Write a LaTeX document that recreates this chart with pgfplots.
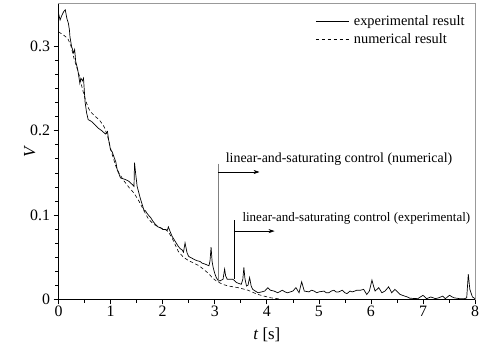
\documentclass[border=0pt]{standalone}
\usepackage{pgfplots}
\pgfplotsset{compat=1.18}
\usepackage{fontspec}
\setmainfont{Liberation Serif}
\usetikzlibrary{arrows.meta}
\newcommand{\fsa}{\fontsize{14}{16}\selectfont}
\newcommand{\fsb}{\fontsize{13.1}{16}\selectfont}
\newcommand{\fl}{\fontsize{14.5}{17}\selectfont}
\newcommand{\ft}{\fontsize{16}{18}\selectfont}
\newcommand{\fa}{\fontsize{17}{19}\selectfont}
\begin{document}
\begin{tikzpicture}
\begin{axis}[
  width=420pt, height=298pt, scale only axis,
  xmin=0, xmax=8, ymin=0, ymax=0.35,
  xtick={0,1,...,8}, minor x tick num=1,
  ytick={0,0.1,0.2,0.3}, minor y tick num=5,
  tick align=outside, tick pos=left,
  major tick length=5pt, minor tick length=3.5pt,
  tick style={black, line width=0.6pt},
  axis line style={gray!80, line width=1pt},
  /pgf/number format/assume math mode=true,
  /pgf/number format/fixed,
  tick label style={font=\ft},
  xticklabel style={yshift=2pt},
  label style={font=\fa},
  xlabel={\textit{t} [s]}, ylabel={\textit{V}},
  xlabel style={yshift=-4pt},
  ylabel style={yshift=-12pt},
  legend style={at={(rel axis cs:0.987,0.975)}, anchor=north east, draw=none, fill=none, font=\fl, row sep=3pt},
  legend cell align=left,
  legend image code/.code={\draw[#1] (0pt,0pt) -- (33pt,0pt); \path (36pt,0pt);},
  clip=false,
]
\addplot[black, line width=0.7pt] coordinates {
(0,0.339) (0.03,0.331) (0.06,0.336) (0.10,0.341) (0.13,0.343) (0.16,0.333) (0.19,0.327) (0.21,0.319) (0.22,0.311) (0.25,0.300) (0.29,0.292) (0.31,0.296) (0.33,0.282) (0.37,0.272) (0.39,0.264) (0.41,0.256) (0.43,0.262) (0.46,0.259) (0.48,0.262) (0.51,0.234) (0.54,0.221) (0.57,0.213) (0.63,0.211) (0.70,0.207) (0.76,0.203) (0.83,0.200) (0.90,0.196) (0.94,0.199) (0.96,0.190) (1.00,0.177) (1.03,0.175) (1.07,0.168) (1.10,0.163) (1.13,0.153) (1.16,0.149) (1.19,0.144) (1.24,0.143) (1.29,0.142) (1.35,0.140) (1.42,0.136) (1.45,0.134) (1.46,0.162) (1.48,0.150) (1.51,0.134) (1.54,0.127) (1.57,0.120) (1.61,0.112) (1.64,0.106) (1.67,0.105) (1.70,0.102) (1.74,0.099) (1.77,0.097) (1.81,0.093) (1.86,0.089) (1.91,0.086) (1.96,0.085) (2.00,0.083) (2.05,0.083) (2.09,0.082) (2.11,0.086) (2.14,0.081) (2.18,0.075) (2.24,0.069) (2.30,0.063) (2.34,0.060) (2.37,0.059) (2.40,0.056) (2.43,0.067) (2.47,0.055) (2.50,0.051) (2.56,0.049) (2.62,0.047) (2.66,0.046) (2.72,0.045) (2.76,0.043) (2.81,0.042) (2.85,0.041) (2.89,0.040) (2.91,0.046) (2.93,0.062) (2.95,0.045) (2.97,0.038) (3.00,0.031) (3.03,0.026) (3.06,0.023) (3.10,0.022) (3.16,0.024) (3.19,0.036) (3.21,0.028) (3.24,0.024) (3.30,0.024) (3.35,0.024) (3.42,0.020) (3.51,0.018) (3.54,0.024) (3.56,0.038) (3.58,0.025) (3.61,0.016) (3.64,0.017) (3.67,0.026) (3.70,0.016) (3.73,0.012) (3.78,0.010) (3.83,0.008) (3.90,0.009) (3.96,0.010) (4.02,0.014) (4.07,0.011) (4.14,0.010) (4.21,0.008) (4.30,0.011) (4.35,0.009) (4.40,0.008) (4.50,0.010) (4.56,0.014) (4.62,0.008) (4.67,0.021) (4.72,0.010) (4.81,0.009) (4.86,0.011) (4.91,0.010) (4.96,0.008) (5.00,0.009) (5.10,0.010) (5.14,0.008) (5.19,0.008) (5.24,0.010) (5.29,0.011) (5.33,0.009) (5.38,0.009) (5.45,0.011) (5.50,0.008) (5.54,0.007) (5.60,0.010) (5.64,0.009) (5.69,0.010) (5.73,0.011) (5.80,0.011) (5.86,0.012) (5.92,0.006) (5.97,0.010) (6.02,0.023) (6.05,0.016) (6.08,0.010) (6.15,0.014) (6.21,0.008) (6.27,0.010) (6.34,0.015) (6.40,0.008) (6.46,0.012) (6.51,0.009) (6.56,0.006) (6.65,0.004) (6.70,0.003) (6.75,0.0015) (6.90,0.001) (7.00,0.005) (7.07,0.001) (7.15,0.003) (7.24,0.001) (7.30,0.002) (7.38,0.004) (7.43,0.001) (7.51,0.005) (7.56,0.003) (7.60,0.002) (7.70,0.001) (7.80,0.001) (7.84,0.002) (7.87,0.030) (7.90,0.012) (7.95,0.003) (8.00,0.001)
};
\addlegendentry{experimental result}
\addplot[black, line width=0.6pt, dash pattern=on 3.5pt off 2.5pt] coordinates {
(0,0.317) (0.10,0.313) (0.18,0.309) (0.24,0.300) (0.30,0.285) (0.35,0.275) (0.40,0.265) (0.46,0.249) (0.53,0.234) (0.58,0.226) (0.62,0.222) (0.70,0.217) (0.78,0.213) (0.84,0.208) (0.88,0.204) (0.94,0.194) (1.03,0.172) (1.10,0.158) (1.16,0.150) (1.25,0.141) (1.35,0.133) (1.45,0.126) (1.55,0.116) (1.65,0.104) (1.73,0.095) (1.83,0.089) (1.95,0.085) (2.05,0.083) (2.11,0.080) (2.18,0.073) (2.30,0.057) (2.40,0.050) (2.50,0.046) (2.60,0.043) (2.70,0.040) (2.80,0.035) (2.88,0.031) (2.95,0.026) (3.03,0.022) (3.15,0.018) (3.26,0.016) (3.45,0.014) (3.64,0.011) (3.75,0.008) (3.83,0.006) (3.95,0.004) (4.08,0.002) (4.20,0.001) (4.30,0.000)
};
\addlegendentry{numerical result}
\draw[black, line width=1.4pt] (rel axis cs:0,0) -- (rel axis cs:1,0);
\draw[black, line width=0.8pt] (rel axis cs:0,0) -- (rel axis cs:0,1);
\draw[gray, line width=1.2pt] (axis cs:3.07,0.161) -- (axis cs:3.07,0.021);
\draw[black, line width=0.6pt, -{Stealth[length=6pt,width=4pt]}] (axis cs:3.07,0.151) -- (axis cs:3.86,0.151);
\node[anchor=west, inner sep=0pt, font=\fsa] at (axis cs:3.21,0.166) {linear-and-saturating control (numerical)};
\draw[black, line width=0.7pt] (axis cs:3.37,0.094) -- (axis cs:3.37,0.024);
\draw[black, line width=0.6pt, -{Stealth[length=6pt,width=4pt]}] (axis cs:3.37,0.081) -- (axis cs:4.15,0.081);
\node[anchor=west, inner sep=0pt, font=\fsb] at (axis cs:3.53,0.096) {linear-and-saturating control (experimental)};
\coordinate (ll) at (rel axis cs:0,0);
\coordinate (ur) at (rel axis cs:1,1);
\end{axis}
\pgfresetboundingbox
\path ([shift={(-59pt,-47pt)}]ll) rectangle ([shift={(6pt,4pt)}]ur);
\end{tikzpicture}
\end{document}
